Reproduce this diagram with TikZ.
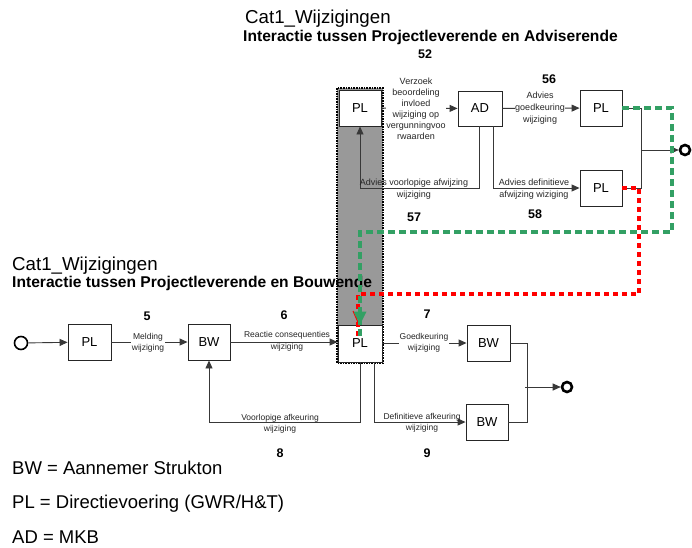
\documentclass[tikz,border=0pt]{standalone}
\usepackage{fontspec}
\setmainfont{Liberation Sans}
\usetikzlibrary{arrows.meta}
\definecolor{colgrey}{RGB}{153,153,153}
\definecolor{dgreen}{RGB}{51,160,100}
\definecolor{dred}{RGB}{255,0,0}
\begin{document}
\begin{tikzpicture}[x=1pt,y=-1pt,
  box/.style={draw=black!85, fill=white, line width=0.9pt, minimum width=43pt, minimum height=36pt, inner sep=0pt, font=\fontsize{13}{15}\selectfont},
  conn/.style={draw=black!78, line width=0.9pt},
  arr/.style={conn, -{Triangle[length=8pt,width=7pt]}},
  lbl/.style={font=\fontsize{8.5}{11.5}\selectfont, align=center, inner sep=0.5pt, text=black!85},
  wlbl/.style={lbl, fill=white},
  num/.style={font=\bfseries\fontsize{12.5}{14}\selectfont, inner sep=0pt},
  bigtitle/.style={font=\fontsize{18.7}{22}\selectfont, anchor=base west, inner sep=0pt},
  boldtitle/.style={font=\bfseries\fontsize{15.6}{18}\selectfont, anchor=base west, inner sep=0pt},
  legend/.style={font=\fontsize{18.5}{22}\selectfont, anchor=base west, inner sep=0pt},
  greendash/.style={draw=dgreen, line width=3.5pt, dash pattern=on 7pt off 4pt},
  reddash/.style={draw=dred, line width=3.5pt, dash pattern=on 5pt off 4pt},
  endcirc/.style={circle, draw=black, line width=2.6pt, minimum size=10pt, inner sep=0pt},
]
\useasboundingbox (0,0) rectangle (692,547);

% grey column
\fill[colgrey] (337,88) rectangle (383,363);
\draw[black, line width=1.6pt, densely dotted] (337,88) rectangle (383,363);

% boxes
\node[box, minimum width=42pt] (plA) at (360,108) {PL};
\node[box, minimum width=44pt, minimum height=35pt] (ad) at (480,108.5) {AD};
\node[box, minimum width=42pt] (pl56) at (601,108) {PL};
\node[box, minimum width=42pt] (pl58) at (601,188) {PL};
\node[box, minimum width=44pt, minimum height=37pt] (plC) at (360,343.5) {PL};
\node[box] (plL) at (89.5,342) {PL};
\node[box, minimum width=42pt] (bwL) at (209,342) {BW};
\node[box] (bw7) at (488.5,343) {BW};
\node[box, minimum width=42pt] (bw9) at (487,422) {BW};

% start / end circles
\node[circle, draw=black, line width=1.6pt, minimum size=13pt, inner sep=0pt] (start) at (21,343) {};
\node[endcirc] (end1) at (567,387) {};
\node[endcirc] (end2) at (685,150) {};
\coordinate (m1) at (527,387);
\coordinate (m2) at (641,150);

% bottom connectors
\draw[arr] (start) -- (plL);
\draw[arr] (plL) -- (bwL);
\draw[arr] (bwL) -- (plC.west |- bwL);
\draw[arr] (plC.east |- bw7) -- (bw7);
\draw[arr] ([xshift=14pt]plC.south) |- (bw9.west);
\draw[arr] (plC.south) -- ++(0,60) -| (bwL.south);
\draw[conn] (bw7.east) -| (m1) |- (bw9.east);
\draw[arr] ([xshift=-2pt]m1) -- (end1);

% top connectors
\draw[arr] (plA) -- (ad);
\draw[arr] (ad) -- (pl56);
\draw[arr] ([xshift=-1pt]ad.south) -- ++(0,62) -| (plA.south);
\draw[arr] ([xshift=13pt]ad.south) |- (pl58.west);
\draw[conn] (pl56.east) -| (m2) |- (pl58.east);
\draw[arr] (m2) -- (end2);

% labels
\node[wlbl] (lmeld) at (148,343) {Melding\\wijziging};
\node[lbl] (lreac) at (287,341.5) {Reactie consequenties\\wijziging};
\node[wlbl] (lgoed) at (424,343) {Goedkeuring\\wijziging};
\node[lbl] (ldef) at (422,423) {Definitieve afkeuring\\wijziging};
\node[lbl] (lvoor) at (280,424) {Voorlopige afkeuring\\wijziging};
\node[wlbl, font=\fontsize{9}{11}\selectfont] (lverz) at (416,108.5) {Verzoek\\beoordeling\\invloed\\wijziging op\\vergunningvoo\\rwaarden};
\node[wlbl, font=\fontsize{9}{12}\selectfont] (ladv) at (540,108) {Advies\\goedkeuring\\wijziging};
\node[lbl, font=\fontsize{9}{12}\selectfont] (lavo) at (414,189) {Advies voorlopige afwijzing\\wijziging};
\node[lbl, font=\fontsize{9}{12}\selectfont] (ladf) at (534,189) {Advies definitieve\\afwijzing wiziging};

% numbers
\node[num] (n5) at (147,316) {5};
\node[num] (n6) at (284,315) {6};
\node[num] (n7) at (427,314) {7};
\node[num] (n8) at (280,453) {8};
\node[num] (n9) at (427,453) {9};
\node[num] (n52) at (425,54) {52};
\node[num] (n56) at (549,79) {56};
\node[num] (n57) at (414,217) {57};
\node[num] (n58) at (535,214) {58};

% titles
\node[bigtitle] (t1) at (245,23) {Cat1\_Wijzigingen};
\node[boldtitle] (t2) at (243,41) {Interactie tussen Projectleverende en Adviserende};
\node[bigtitle] (t3) at (12,270) {Cat1\_Wijzigingen};
\node[boldtitle] (t4) at (12,287) {Interactie tussen Projectleverende en Bouwende};

% legend
\node[legend] (g1) at (12,474) {BW = Aannemer Strukton};
\node[legend] (g2) at (12,508) {PL = Directievoering (GWR/H\&T)};
\node[legend] (g3) at (12,543) {AD = MKB};

% dashed flows
\coordinate (r1) at (639,188);
\coordinate (r2) at (639,294);
\coordinate (r3) at (358,294);
\draw[reddash] (pl58.east) -- (r1) -- (r2) -- (r3) -- ([xshift=-2pt,yshift=-12pt]plC.north);
\draw[dred, line width=1pt] (353,311) -- ([xshift=-1pt]plC.north);
\coordinate (g1c) at (672,108);
\coordinate (g2c) at (672,232);
\coordinate (g3c) at (360,232);
\draw[greendash] (pl56.east) -- (g1c) -- (g2c) -- (g3c) -- ([yshift=-13pt]plC.north);
\fill[dgreen] (plC.north) -- (353.5,311.5) -- (366.5,311.5) -- cycle;
\end{tikzpicture}
\end{document}
